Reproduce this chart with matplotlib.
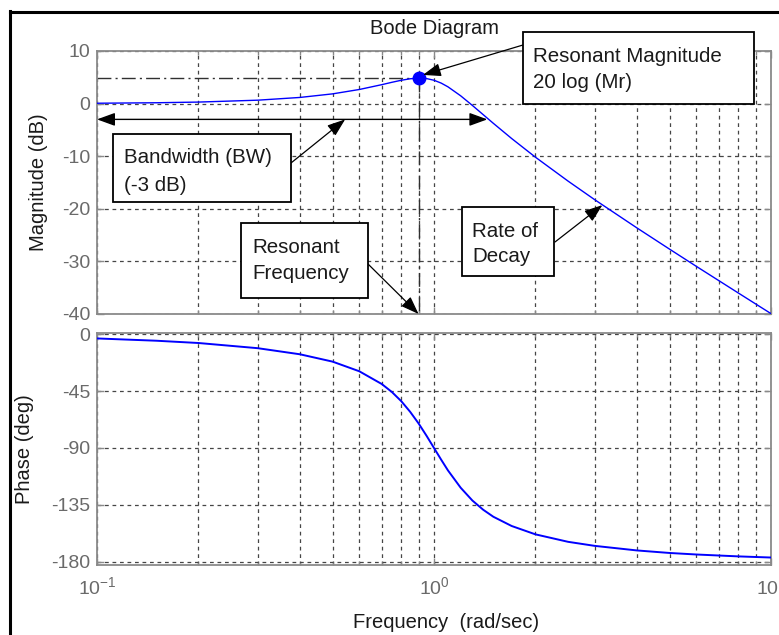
import matplotlib
matplotlib.use('Agg')
import matplotlib.pyplot as plt
from matplotlib.patches import Rectangle
from matplotlib.lines import Line2D

# ---------------- data ----------------
freq = [0.1, 0.15, 0.2, 0.3, 0.4, 0.5, 0.6, 0.7, 0.75, 0.8, 0.85, 0.9, 0.95,
        1.0, 1.05, 1.1, 1.2, 1.3, 1.4, 1.5, 1.7, 2.0, 2.5, 3.0, 4.0, 5.0,
        6.0, 8.0, 10.0]
mag_db = [0.07, 0.16, 0.29, 0.65, 1.17, 1.85, 2.68, 3.60, 4.05, 4.44, 4.72,
          4.85, 4.76, 4.44, 3.90, 3.19, 1.48, -0.35, -2.11, -3.75, -6.64,
          -10.19, -14.74, -18.28, -23.63, -27.67, -30.93, -36.01, -39.93]
phase_deg = [-3.5, -5.3, -7.1, -11.2, -16.0, -21.8, -29.4, -39.5, -45.8,
             -53.1, -61.5, -70.6, -80.3, -90.0, -99.2, -107.7, -121.4,
             -131.5, -138.8, -144.3, -151.6, -158.2, -164.1, -167.3, -170.9,
             -172.9, -174.1, -175.6, -176.5]

peak_freq = 0.9          # resonant frequency
peak_db = 4.85           # resonant magnitude 20 log(Mr)
bw_freq = 1.44           # bandwidth (-3 dB crossing)
bw_db = -3
bw_pointer_freq = 0.545  # where the bandwidth callout points on the -3 dB arrow
decay_freq = 3.16        # where the rate-of-decay callout points
decay_db = -19.3

mag_ticks = [-40, -30, -20, -10, 0, 10]
phase_ticks = [-180, -135, -90, -45, 0]
x_ticks = [0.1, 1, 10]
x_tick_labels = [r'$\mathregular{10^{-1}}$', r'$\mathregular{10^{0}}$',
                 r'$\mathregular{10^{1}}$']

title_text = 'Bode Diagram'
mag_label = 'Magnitude (dB)'
phase_label = 'Phase (deg)'
x_label = 'Frequency  (rad/sec)'

# ---------------- style ----------------
plt.rcParams['font.family'] = ['Liberation Sans', 'DejaVu Sans']
plt.rcParams['mathtext.fontset'] = 'custom'
plt.rcParams['mathtext.rm'] = 'Liberation Sans'
plt.rcParams['mathtext.it'] = 'Liberation Sans'
plt.rcParams['axes.unicode_minus'] = False

W, H = 779, 635
fig = plt.figure(figsize=(W / 100, H / 100), dpi=100)
fig.patch.set_facecolor('white')

def fx(px):
    return px / W

def fy(py):
    return 1 - py / H

BLUE = '#0000ff'
FRAME = '#8a8a8a'
GRID = '#454545'
TICKC = '#6a6a6a'
TXT = '#1a1a1a'

ax1 = fig.add_axes([fx(97), fy(314), (771 - 97) / W, (314 - 51) / H])
ax2 = fig.add_axes([fx(97), fy(565), (771 - 97) / W, (565 - 333) / H])

ax1.semilogx(freq, mag_db, color=BLUE, lw=1.0, zorder=3)
ax2.semilogx(freq, phase_deg, color=BLUE, lw=1.4, zorder=3)

ax1.set_xlim(0.1, 10)
ax1.set_ylim(-40, 10)
ax2.set_xlim(0.1, 10)
ax2.set_ylim(-182.4, 0.8)

ax1.set_yticks(mag_ticks)
ax1.set_yticklabels([str(t) for t in mag_ticks])
ax2.set_yticks(phase_ticks)
ax2.set_yticklabels([str(t) for t in phase_ticks])
ax1.set_xticks(x_ticks)
ax1.set_xticklabels([])
ax2.set_xticks(x_ticks)
ax2.set_xticklabels(x_tick_labels)

for ax in (ax1, ax2):
    for s in ax.spines.values():
        s.set_color(FRAME)
        s.set_linewidth(1.3)
    ax.tick_params(which='both', direction='in', top=True, right=True,
                   color=FRAME, labelcolor=TICKC, labelsize=14)
    ax.tick_params(which='major', length=5, width=1)
    ax.tick_params(which='minor', length=3, width=1)
    ax.tick_params(axis='y', pad=5)
    ax.tick_params(axis='x', pad=8)
    ax.grid(True, which='major', axis='y', linestyle=(0, (3, 3)),
            color=GRID, lw=0.9)
    ax.grid(True, which='both', axis='x', linestyle=(0, (3, 3)),
            color=GRID, lw=0.9)
    ax.set_axisbelow(True)
ax1.tick_params(which='both', labelbottom=False)
ax1.xaxis.set_minor_formatter(plt.NullFormatter())
ax2.xaxis.set_minor_formatter(plt.NullFormatter())

# ---------------- labels ----------------
fig.text(fx(434), fy(29), title_text, ha='center', va='center',
         fontsize=14.5, color=TXT)
fig.text(fx(38), fy(182), mag_label, ha='center', va='center',
         rotation=90, fontsize=14.5, color=TXT)
fig.text(fx(25), fy(449), phase_label, ha='center', va='center',
         rotation=90, fontsize=14.5, color=TXT)
fig.text(fx(446), fy(622), x_label, ha='center', va='center',
         fontsize=14.5, color=TXT)

# ---------------- resonant markers ----------------
ax1.plot([0.1, peak_freq], [peak_db, peak_db], color='#303030', lw=1.0,
         linestyle=(0, (10, 3, 1.5, 3)), zorder=2)
ax1.plot([peak_freq, peak_freq], [peak_db, -40], color='#303030', lw=1.0,
         linestyle=(0, (10, 3, 1.5, 3)), zorder=2)
ax1.plot([peak_freq], [peak_db], 'o', color=BLUE, ms=9, zorder=6)

ARROW = '-|>,head_length=1.1,head_width=0.4'

# bandwidth double arrow
ax1.annotate('', xy=(bw_freq, bw_db), xycoords='data',
             xytext=(0.1, bw_db), textcoords='data',
             arrowprops=dict(arrowstyle='<|-|>,head_length=1.1,head_width=0.4',
                             color='black', lw=1.0, shrinkA=0, shrinkB=0),
             annotation_clip=False, zorder=5)

def callout(x0, y0, x1, y1, lines, tx, baselines):
    fig.add_artist(Rectangle((fx(x0), fy(y1)), (x1 - x0) / W, (y1 - y0) / H,
                             transform=fig.transFigure, facecolor='white',
                             edgecolor='black', lw=1.3, zorder=10))
    for line, b in zip(lines, baselines):
        fig.text(fx(tx), fy(b), line, ha='left', va='baseline',
                 fontsize=14.8, color=TXT, zorder=11)

def pointer(sx, sy, xy):
    ax1.annotate('', xy=xy, xycoords='data',
                 xytext=(sx, H - sy), textcoords='figure pixels',
                 arrowprops=dict(arrowstyle=ARROW, color='black', lw=0.9,
                                 shrinkA=0, shrinkB=0),
                 annotation_clip=False, zorder=7)

# Bandwidth box
callout(113, 134, 291, 202, ['Bandwidth (BW)', '(-3 dB)'], 124, [163, 191])
pointer(291, 163, (bw_pointer_freq, bw_db))

# Resonant Frequency box
callout(241, 223, 368, 298, ['Resonant', 'Frequency'], 252, [253, 279])
pointer(366, 262, (peak_freq, -40))

# Resonant Magnitude box
callout(523, 32, 754, 104, ['Resonant Magnitude', '20 log (Mr)'], 533, [62, 88])
pointer(523, 45, (peak_freq * 1.03, peak_db + 0.6))

# Rate of Decay box
callout(462, 207, 554, 276, ['Rate of', 'Decay'], 472, [237, 262])
pointer(555, 242, (decay_freq, decay_db))

# ---------------- outer frame ----------------
fig.add_artist(Line2D([fx(10), fx(10)], [fy(11), -0.05],
                      transform=fig.transFigure, color='black', lw=2.2,
                      zorder=20))
fig.add_artist(Line2D([fx(10), 1.05], [fy(11.5), fy(11.5)],
                      transform=fig.transFigure, color='black', lw=2.2,
                      zorder=20))

fig.savefig('out.png', dpi=100, facecolor='white')
